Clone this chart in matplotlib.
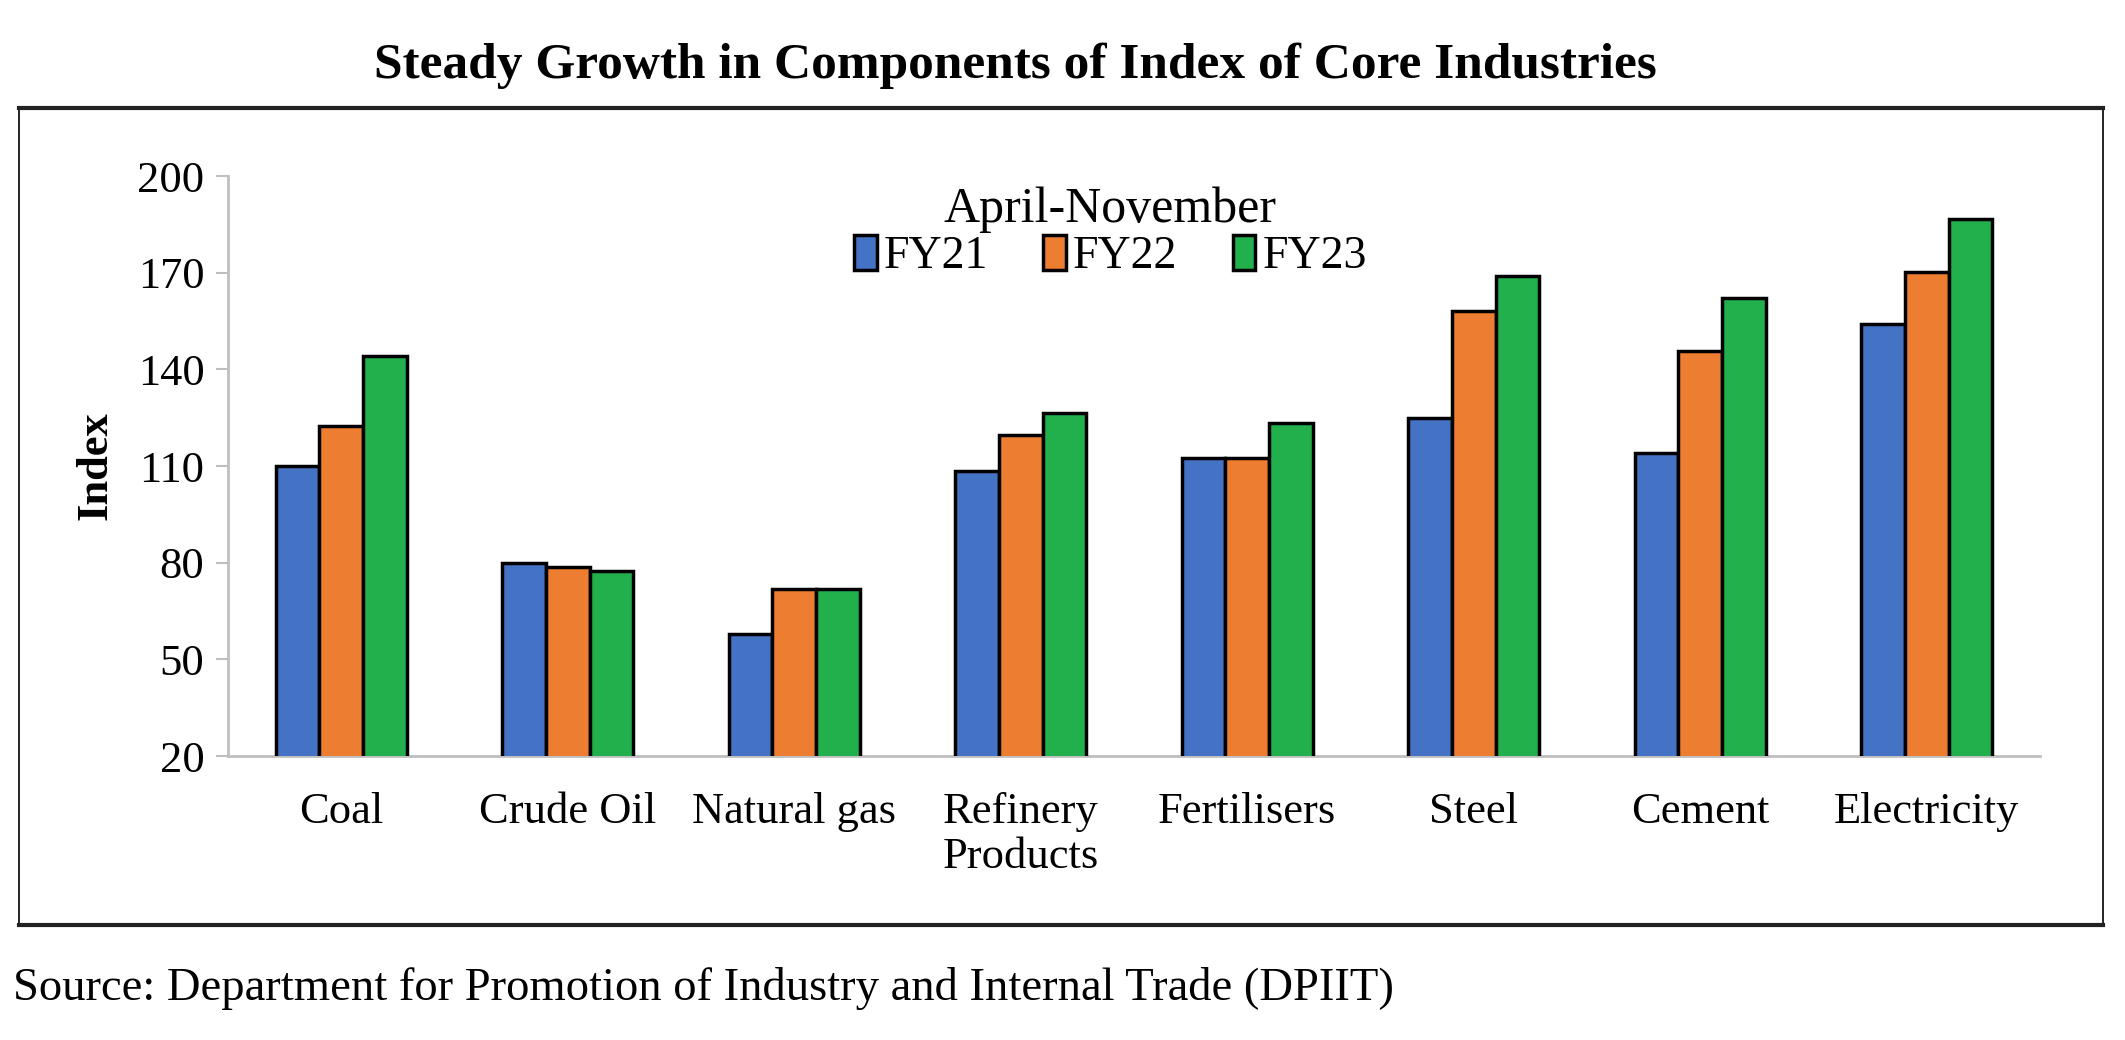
import numpy as np
import matplotlib
matplotlib.use('Agg')
import matplotlib.pyplot as plt
from matplotlib.lines import Line2D
from matplotlib.patches import Rectangle

plt.rcParams['font.family'] = ['Liberation Serif', 'DejaVu Serif']

# Данные (апрель-ноябрь)
categories = ['Coal', 'Crude Oil', 'Natural gas', 'Refinery\nProducts', 'Fertilisers',
              'Steel', 'Cement', 'Electricity']
fy21 = [110, 80, 58, 108.5, 112.5, 125, 114, 154]
fy22 = [122.5, 78.6, 72, 119.5, 112.5, 158, 145.6, 170.2]
fy23 = [144.3, 77.4, 72, 126.4, 123.5, 169, 162.2, 186.8]
series_names = ['FY21', 'FY22', 'FY23']
colors = ['#4472C4', '#ED7D31', '#21B04B']

fig = plt.figure(figsize=(21.25, 10.4), dpi=100)
ax = fig.add_axes([0.1073, 0.273, 0.8527, 0.5577])

x = np.arange(len(categories))
w = 0.193
for i, (vals, name, c) in enumerate(zip([fy21, fy22, fy23], series_names, colors)):
    ax.bar(x + (i - 1) * w, vals, width=w, color=c, edgecolor='black',
           linewidth=2.5, label=name, zorder=3)

ax.set_xlim(-0.5, 7.5)
ax.set_ylim(20, 200)
ax.set_yticks(np.arange(20, 201, 30))
ax.set_xticks(x)
ax.set_xticklabels(categories, fontsize=32, linespacing=1.15)
ax.tick_params(axis='y', labelsize=32, length=9, width=1.5, color='#BFBFBF', pad=8)
ax.tick_params(axis='x', length=0, pad=26)
for s in ['top', 'right']:
    ax.spines[s].set_visible(False)
for s in ['left', 'bottom']:
    ax.spines[s].set_color('#BFBFBF')
    ax.spines[s].set_linewidth(2)
ax.set_ylabel('Index', fontsize=32, fontweight='bold', labelpad=16)

leg = ax.legend(title='April-November', ncol=3, frameon=False, loc='upper center',
                bbox_to_anchor=(0.487, 1.013), fontsize=33, title_fontsize=36,
                handlelength=0.5, handleheight=0.8, handletextpad=0.15,
                columnspacing=1.2, borderaxespad=0, labelspacing=0.2)
leg._legend_box.sep = 1

fig.text(0.478, 0.937, 'Steady Growth in Components of Index of Core Industries',
         ha='center', va='center', fontsize=37, fontweight='bold')
fig.text(0.006, 0.05, 'Source: Department for Promotion of Industry and Internal Trade (DPIIT)',
         ha='left', va='center', fontsize=33.6)

# рамка вокруг графика
x0, x1 = 19 / 2125, 2103 / 2125
y0, y1 = 1 - 925 / 1040, 1 - 108 / 1040
fig.add_artist(Rectangle((x0, y0), x1 - x0, y1 - y0, transform=fig.transFigure,
                         fill=False, edgecolor='black', linewidth=1.2))
fig.add_artist(Line2D([x0, x1], [y1, y1], transform=fig.transFigure, color='#222222', linewidth=3))
fig.add_artist(Line2D([x0, x1], [y0, y0], transform=fig.transFigure, color='#222222', linewidth=3))

fig.savefig('out.png', dpi=100)
